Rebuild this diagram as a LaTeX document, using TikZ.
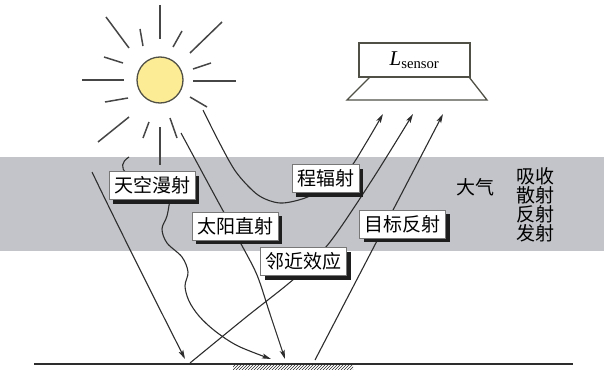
\RequirePackage{fix-cm}
\documentclass[tikz,border=0pt]{standalone}
\usepackage{fontspec}
\newfontfamily\cjk{Noto Sans CJK SC}
\newfontfamily\sensorfont{Liberation Serif}
\usetikzlibrary{
	positioning,
	arrows.meta,
	shadows,
	patterns
}
\definecolor{SunYellow}{RGB}{252,236,150}
\definecolor{SunEdge}{RGB}{80,80,70}
\definecolor{AirGray}{RGB}{194,196,201}
\definecolor{InkGray}{RGB}{45,45,45}
\definecolor{RayGray}{RGB}{70,70,70}
\definecolor{BoxEdge}{RGB}{120,120,120}
\definecolor{ShadowBlack}{RGB}{30,30,30}

\tikzset{
	labelbox/.style={
		draw=BoxEdge,
		line width=0.6pt,
		fill=white,
		font=\cjk\fontsize{19pt}{21pt}\selectfont,
		inner xsep=5pt,
		inner ysep=3pt,
		minimum height=28pt,
		drop shadow={shadow xshift=4pt,shadow yshift=-4pt,fill=ShadowBlack,opacity=1}
	},
	beam/.style={
		InkGray,
		line width=1.1pt,
		-{Stealth[length=9pt,width=5pt,inset=2pt]}
	},
	sunray/.style={
		RayGray,
		line width=1.5pt
	}
}

\begin{document}
\begin{tikzpicture}[x=1pt,y=-1pt]
				
				\useasboundingbox (0,0) rectangle (604,369);
				
				% Atmosphere band
				\fill[AirGray]
				(0,157) rectangle (604,251);
				
				% Beam ends at the sensor
				\coordinate (pathin) at (383,114);
				\coordinate (adjin) at (413,114);
				\coordinate (targetin) at (443,114);
				
				% Beam ends on the ground
				\coordinate (skyhit) at (185,359);
				\coordinate (wavehit) at (271,359);
				\coordinate (directhit) at (285,359);
				\coordinate (adjout) at (190,363);
				\coordinate (targetout) at (315,360);
				
				% Beams from the sun
				\coordinate (directout) at (181,133);
				\coordinate (pathout) at (203,110);
				
				\draw[beam]
				(92,172) .. controls (115,220) and (150,290) .. (skyhit);
				
				\draw[
				InkGray,
				line width=1.1pt
				]
				(129,157) .. controls (121,162) and (121,168) .. (126,173);
				
				\draw[beam]
				plot[smooth,tension=0.55] coordinates {
					(170,199) (167,216) (162,229) (167,243) (182,257) (188,272)
					(185,286) (189,301) (199,316) (215,331) (238,346) (wavehit)};
				
				\draw[beam]
				plot[smooth] coordinates {
					(directout) (215,196) (240,242) (257,275) (270,314) (directhit)};
				
				\draw[beam]
				plot[smooth] coordinates {
					(pathout) (218,140) (236,172) (258,195) (280,203) (305,198)
					(330,185) (350,168) (366,143) (pathin)};
				
				% Reflected beams
				\draw[beam]
				plot[smooth] coordinates {
					(adjout) (245,318) (295,278) (330,242) (372,180) (adjin)};
				
				\draw[beam]
				(targetout) -- (targetin);
				
				% Label boxes
				\node[labelbox] (sky) at (152,185.5) {天空漫射};
				\node[labelbox] (direct) at (235,226) {太阳直射};
				\node[labelbox] (path) at (325.5,178.5) {程辐射};
				\node[labelbox] (adjacent) at (303.5,261.5) {邻近效应};
				\node[labelbox] (target) at (402.5,224) {目标反射};
				
				% Sensor
				\node[
				draw=SunEdge,
				line width=1.3pt,
				minimum width=111pt,
				minimum height=34pt,
				inner sep=0pt,
				font=\sensorfont\fontsize{21pt}{23pt}\selectfont
				] (sensor) at (414.5,60) {\textit{L}\textsubscript{sensor}};
				
				% Ground
				\draw[
				InkGray,
				line width=1.8pt
				]
				(34,364) -- (573,364);
				
				\fill[
				pattern=north east lines,
				pattern color=InkGray
				]
				(233,365) rectangle (353,369);
				
				% Sun rays
				\foreach \sx/\sy/\ex/\ey in {
					160/5/160/39, 106/17/129/48, 140/29/143/46, 182/31/173/47,
					222/22/190/53, 104/57/123/63, 211/63/193/69, 82/80/124/80,
					193/81/236/81, 105/102/128/98, 190/97/207/107, 98/142/129/117,
					143/138/149/122, 160/127/160/165, 170/118/177/138}
				\draw[sunray] (\sx,\sy) -- (\ex,\ey);
				
				% Sun
				\node[
				circle,
				draw=SunEdge,
				line width=1.3pt,
				fill=SunYellow,
				minimum size=46pt,
				inner sep=0pt
				] (sun) at (160,80) {};
				
				% Sensor footprint
				\draw[
				SunEdge,
				line width=1.3pt
				]
				(370,77) -- (347,100) -- (487,100) -- (469,77);
				
				% Atmosphere text
				\node[font=\cjk\fontsize{19pt}{21pt}\selectfont] (air) at (475,187) {大气};
				\node[
				font=\cjk\fontsize{19pt}{19pt}\selectfont,
				align=center
				] (process) at (535,205) {吸收\\散射\\反射\\发射};
				
			\end{tikzpicture}
\end{document}
